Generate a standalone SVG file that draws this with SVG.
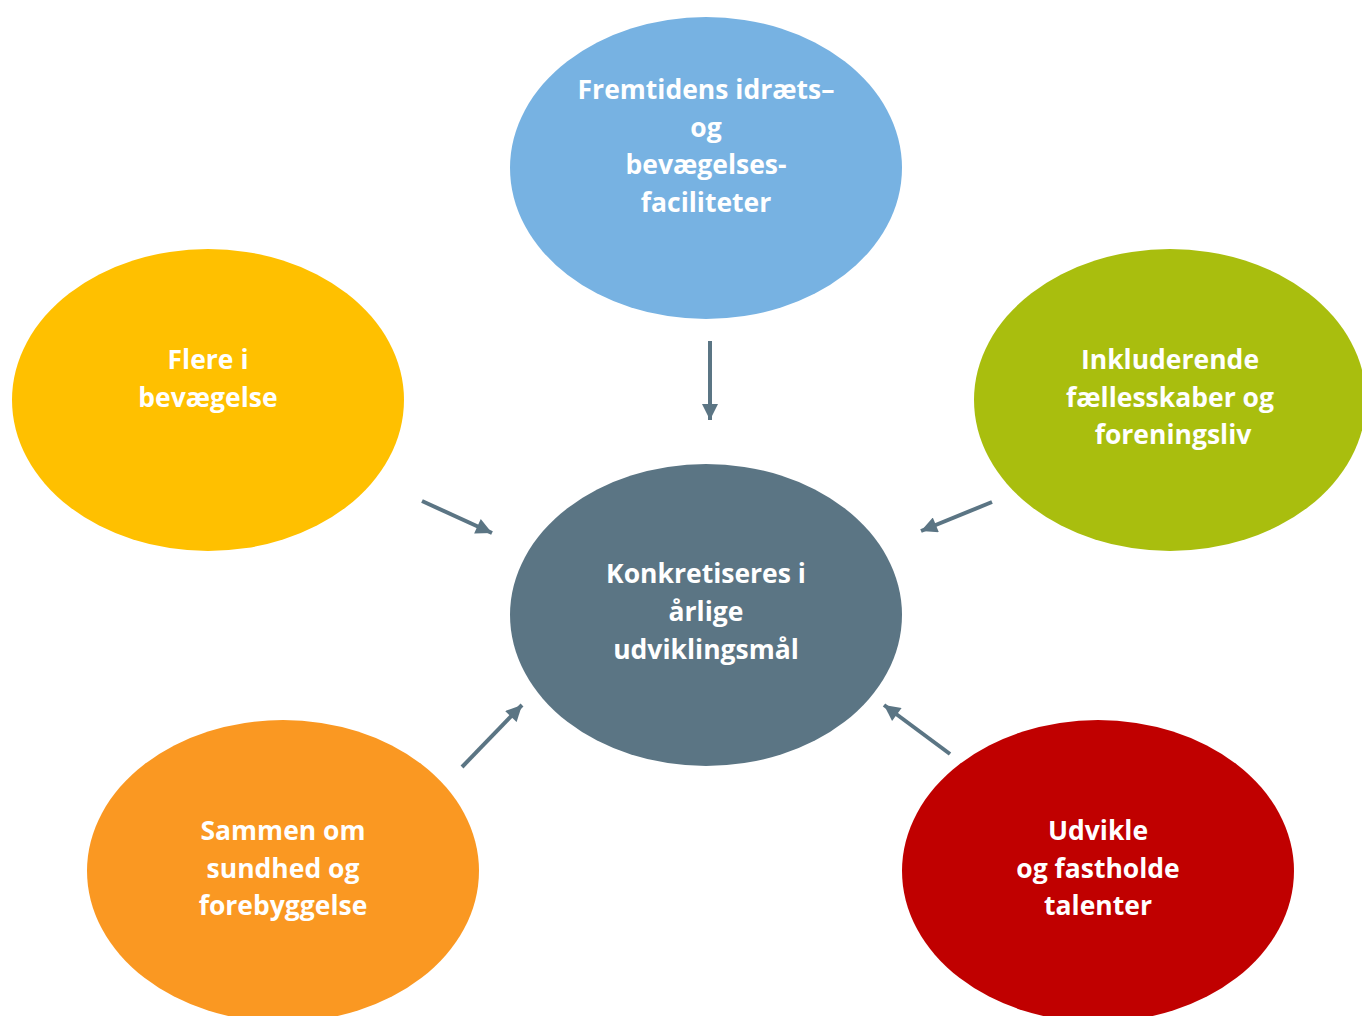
<svg xmlns="http://www.w3.org/2000/svg" width="1362" height="1016" viewBox="0 0 1362 1016">
  <style>
    .lbl { font-family: "Open Sans", "Liberation Sans", sans-serif; font-weight: 700; font-size: 26.5px; fill: #FFFFFF; text-anchor: middle; }
    .conn { stroke: #5B7584; stroke-width: 4; fill: none; marker-end: url(#head); }
  </style>
  <defs>
    <marker id="head" viewBox="0 0 10 10" refX="10" refY="5" markerWidth="4.5" markerHeight="4" markerUnits="strokeWidth" orient="auto">
      <path d="M0,0 L10,5 L0,10 Z" fill="#5B7584"/>
    </marker>
  </defs>
  <rect width="1362" height="1016" fill="#FFFFFF"/>

  <g id="node-faciliteter">
    <ellipse cx="706" cy="168" rx="196" ry="151" fill="#77B2E2"/>
    <text class="lbl" x="706" y="99">Fremtidens idræts–</text>
    <text class="lbl" x="706" y="137">og</text>
    <text class="lbl" x="706" y="174">bevægelses-</text>
    <text class="lbl" x="706" y="212">faciliteter</text>
  </g>

  <g id="node-bevaegelse">
    <ellipse cx="208" cy="400" rx="196" ry="151" fill="#FFC000"/>
    <text class="lbl" x="208" y="369">Flere i</text>
    <text class="lbl" x="208" y="407">bevægelse</text>
  </g>

  <g id="node-faellesskaber">
    <ellipse cx="1170" cy="400" rx="196" ry="151" fill="#A9BE0E"/>
    <text class="lbl" x="1170" y="369">Inkluderende</text>
    <text class="lbl" x="1170" y="407">fællesskaber og</text>
    <text class="lbl" x="1173" y="444">foreningsliv</text>
  </g>

  <g id="node-center">
    <ellipse cx="706" cy="615" rx="196" ry="151" fill="#5B7584"/>
    <text class="lbl" x="706" y="583">Konkretiseres i</text>
    <text class="lbl" x="706" y="621">årlige</text>
    <text class="lbl" x="706" y="659">udviklingsmål</text>
  </g>

  <g id="node-sundhed">
    <ellipse cx="283" cy="871" rx="196" ry="151" fill="#FA9822"/>
    <text class="lbl" x="283" y="840">Sammen om</text>
    <text class="lbl" x="283" y="878">sundhed og</text>
    <text class="lbl" x="283" y="915">forebyggelse</text>
  </g>

  <g id="node-talenter">
    <ellipse cx="1098" cy="871" rx="196" ry="151" fill="#C00000"/>
    <text class="lbl" x="1098" y="840">Udvikle</text>
    <text class="lbl" x="1098" y="878">og fastholde</text>
    <text class="lbl" x="1098" y="915">talenter</text>
  </g>

  <g id="connectors">
    <line class="conn" x1="710" y1="341" x2="710" y2="420"/>
    <line class="conn" x1="422" y1="501" x2="492" y2="533"/>
    <line class="conn" x1="992" y1="502" x2="921" y2="531"/>
    <line class="conn" x1="462" y1="767" x2="522" y2="705"/>
    <line class="conn" x1="950" y1="754" x2="884" y2="705"/>
  </g>
</svg>
